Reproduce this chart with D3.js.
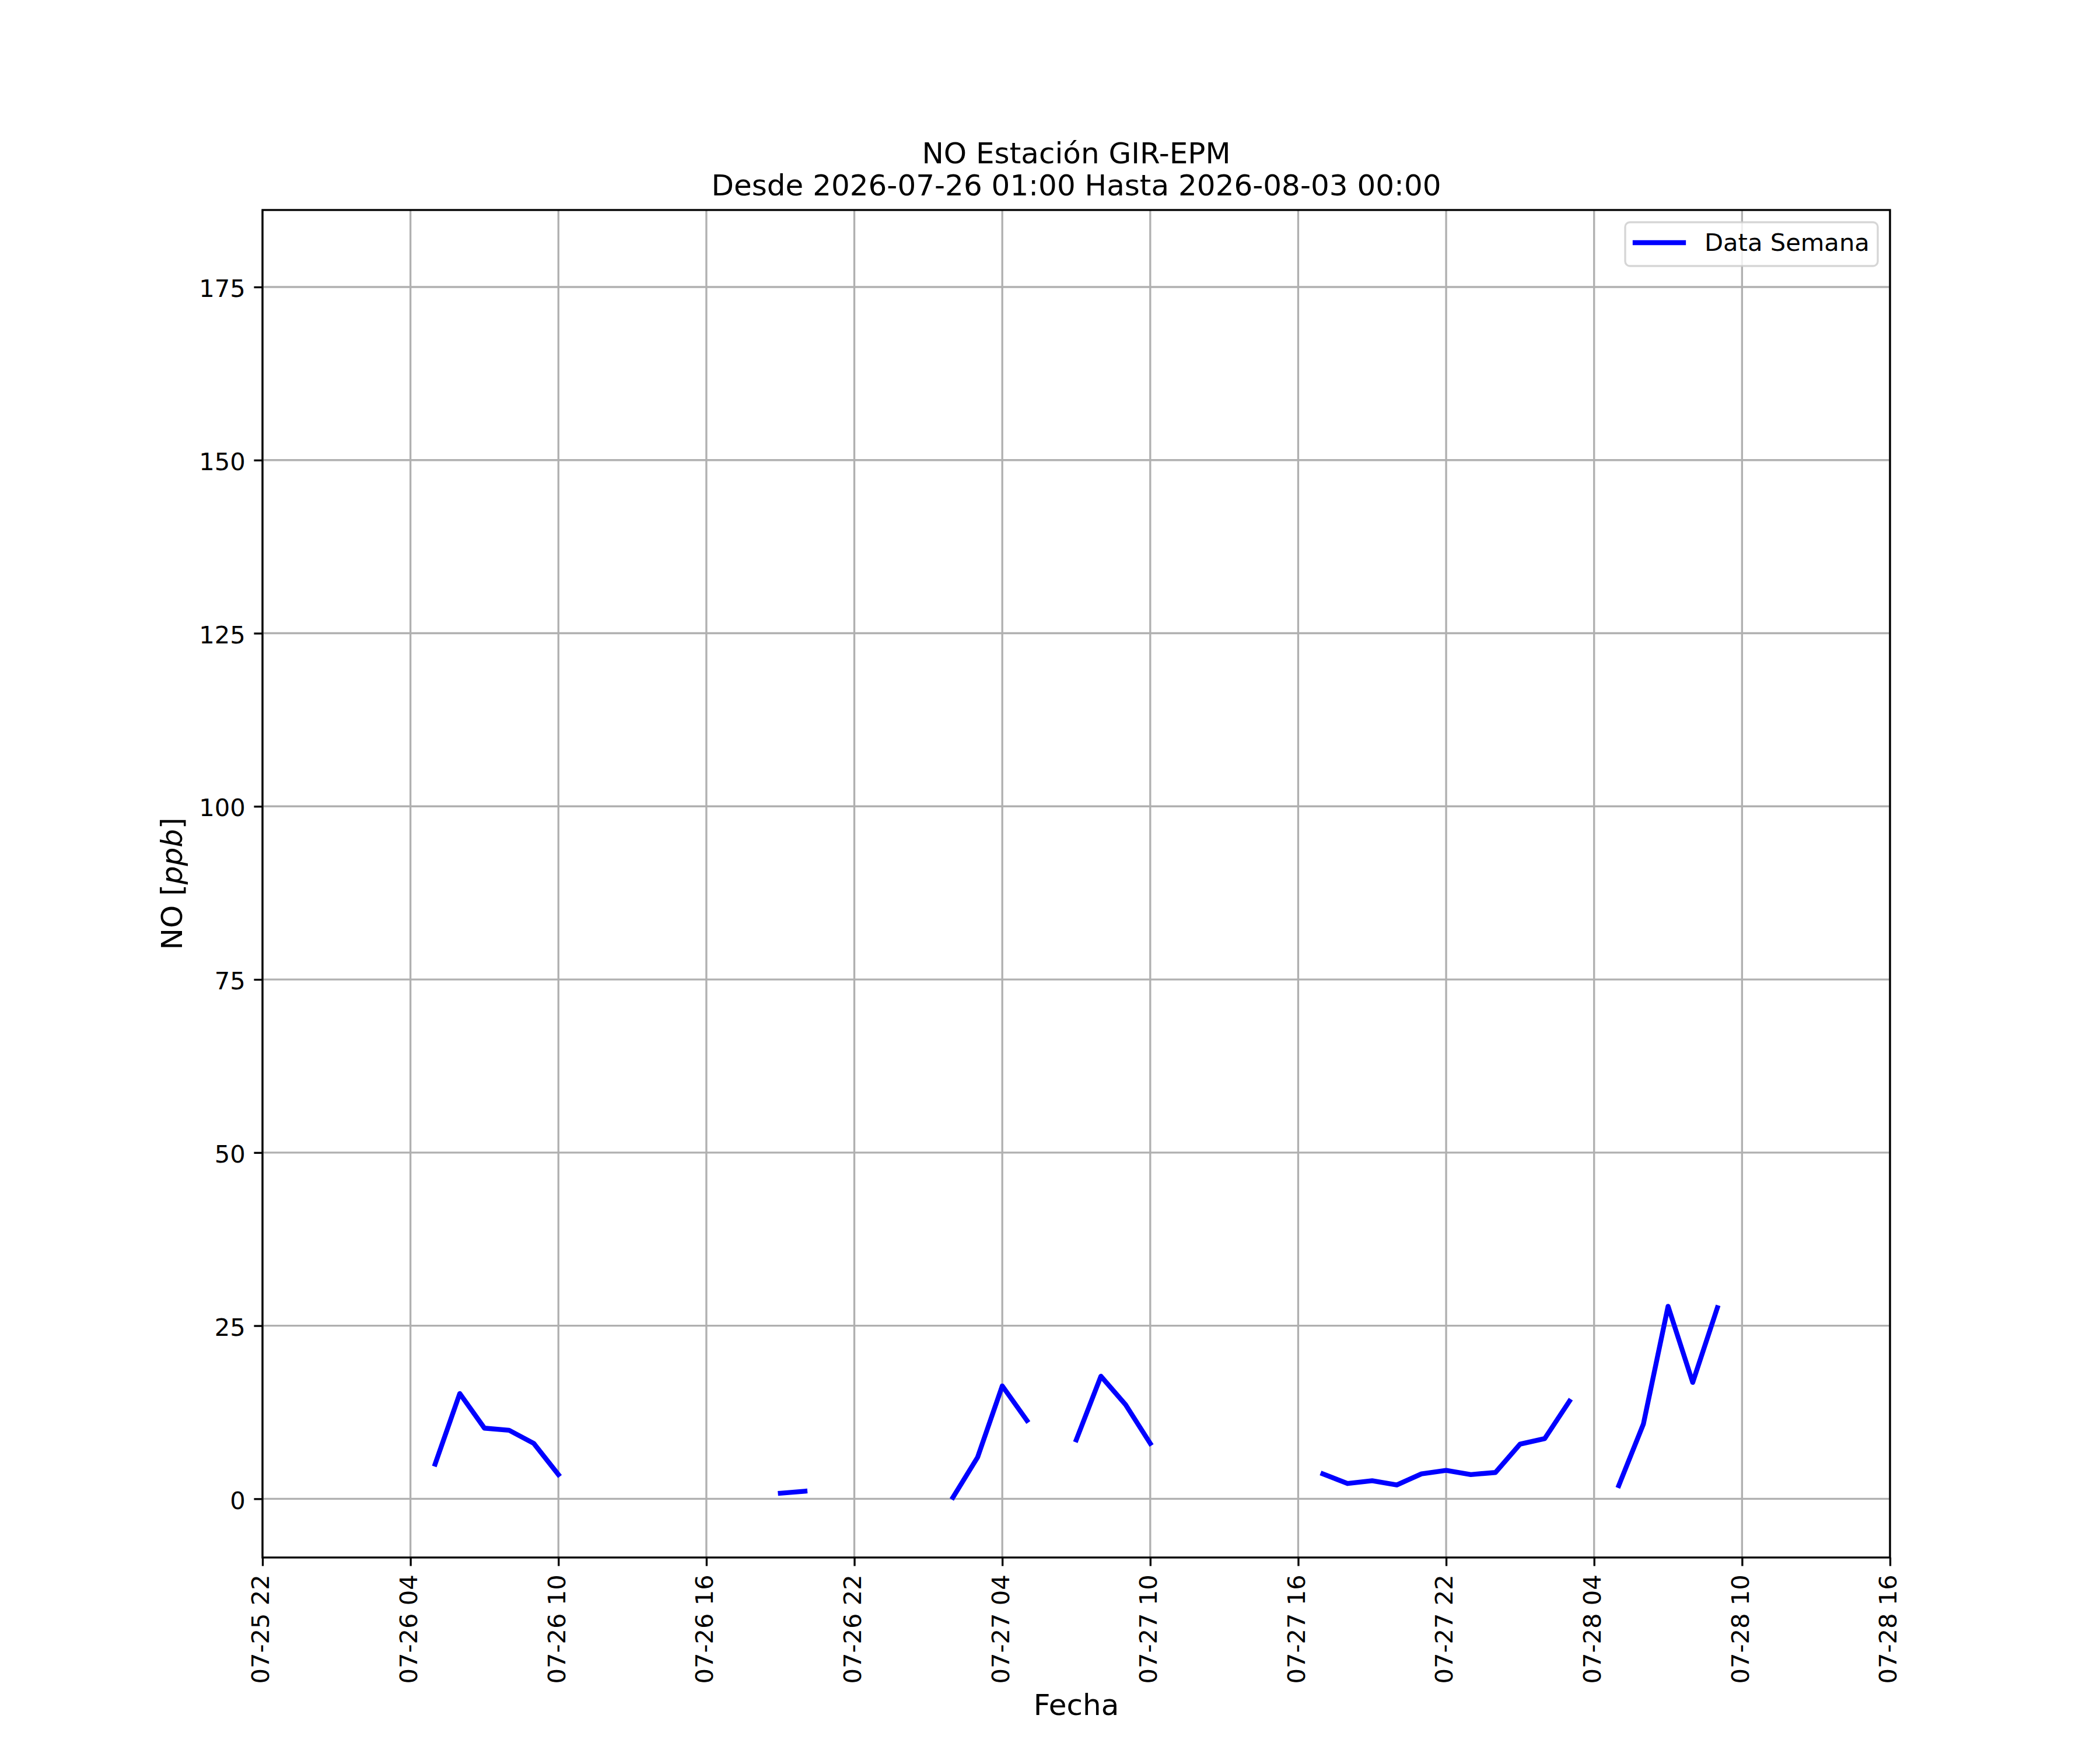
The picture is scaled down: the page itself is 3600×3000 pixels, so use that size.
<!DOCTYPE html>
<html>
<head>
<meta charset="utf-8">
<script src="https://cdn.jsdelivr.net/npm/d3@7"></script>
<style>
  body { margin: 0; background: #ffffff; }
  text { font-family: "DejaVu Sans", sans-serif; fill: #000000; }
</style>
</head>
<body>
<script>
// hourly readings, null = no data (breaks the line)
var fechas = [
  "2026-07-26 05:00", "2026-07-26 06:00", "2026-07-26 07:00", "2026-07-26 08:00", "2026-07-26 09:00", "2026-07-26 10:00",
  "2026-07-26 11:00",
  "2026-07-26 19:00", "2026-07-26 20:00",
  "2026-07-26 21:00",
  "2026-07-27 02:00", "2026-07-27 03:00", "2026-07-27 04:00", "2026-07-27 05:00",
  "2026-07-27 06:00",
  "2026-07-27 07:00", "2026-07-27 08:00", "2026-07-27 09:00", "2026-07-27 10:00",
  "2026-07-27 11:00",
  "2026-07-27 17:00", "2026-07-27 18:00", "2026-07-27 19:00", "2026-07-27 20:00", "2026-07-27 21:00", "2026-07-27 22:00",
  "2026-07-27 23:00", "2026-07-28 00:00", "2026-07-28 01:00", "2026-07-28 02:00", "2026-07-28 03:00",
  "2026-07-28 04:00",
  "2026-07-28 05:00", "2026-07-28 06:00", "2026-07-28 07:00", "2026-07-28 08:00", "2026-07-28 09:00"
];
var valores = [
  5.0, 15.2, 10.2, 9.9, 8.0, 3.5,
  null,
  0.8, 1.1,
  null,
  0.2, 6.0, 16.3, 11.3,
  null,
  8.5, 17.7, 13.6, 8.0,
  null,
  3.6, 2.2, 2.6, 2.0, 3.6, 4.1,
  3.5, 3.8, 7.9, 8.7, 14.1,
  null,
  1.9, 10.8, 27.8, 16.8, 27.6
];
var xTicks = [
  "2026-07-25 22:00", "2026-07-26 04:00", "2026-07-26 10:00", "2026-07-26 16:00",
  "2026-07-26 22:00", "2026-07-27 04:00", "2026-07-27 10:00", "2026-07-27 16:00",
  "2026-07-27 22:00", "2026-07-28 04:00", "2026-07-28 10:00", "2026-07-28 16:00"
];
var yTicks = [0, 25, 50, 75, 100, 125, 150, 175];
var xRange = ["2026-07-25 22:00", "2026-07-28 16:00"];
var yRange = [-8.48, 186.12];
var leyenda = ["Data Semana"];
var titulo = ["NO Estación GIR-EPM", "Desde 2026-07-26 01:00 Hasta 2026-08-03 00:00"];

var W = 3600, H = 3000;
var axL = 450, axR = 3240, axT = 360, axB = 2670;
var pt = 300 / 72;
var fs = 10 * pt, fsBig = 12 * pt;
var tickLen = 3.5 * pt, thin = 0.8 * pt;

var parse = d3.utcParse("%Y-%m-%d %H:%M");
var data = fechas.map(function (f, i) { return { t: parse(f), v: valores[i] }; });

var svg = d3.select("body").append("svg").attr("width", W).attr("height", H);
svg.append("rect").attr("width", W).attr("height", H).attr("fill", "#ffffff");

var x = d3.scaleUtc().domain(xRange.map(parse)).range([axL, axR]);
var y = d3.scaleLinear().domain(yRange).range([axB, axT]);

// grid
var grid = svg.append("g");
grid.selectAll(".gx").data(xTicks.map(parse)).enter().append("line")
  .attr("x1", function (d) { return x(d); }).attr("x2", function (d) { return x(d); })
  .attr("y1", axT).attr("y2", axB)
  .attr("stroke", "#b0b0b0").attr("stroke-width", thin);
grid.selectAll(".gy").data(yTicks).enter().append("line")
  .attr("x1", axL).attr("x2", axR)
  .attr("y1", function (d) { return y(d); }).attr("y2", function (d) { return y(d); })
  .attr("stroke", "#b0b0b0").attr("stroke-width", thin);

// series
var line = d3.line()
  .defined(function (d) { return d.v != null; })
  .x(function (d) { return x(d.t); })
  .y(function (d) { return y(d.v); });

svg.append("path").datum(data)
  .attr("d", line)
  .attr("fill", "none")
  .attr("stroke", "#0000ff")
  .attr("stroke-width", 2 * pt)
  .attr("stroke-linecap", "square")
  .attr("stroke-linejoin", "round");

// axes
var xAxis = svg.append("g").attr("transform", "translate(0," + axB + ")")
  .call(d3.axisBottom(x).tickValues(xTicks.map(parse))
    .tickFormat(d3.utcFormat("%m-%d %H")).tickSizeInner(tickLen).tickSizeOuter(0));
xAxis.select(".domain").remove();
xAxis.selectAll("line").attr("stroke", "#000").attr("stroke-width", thin);
xAxis.selectAll("text")
  .attr("font-size", fs).attr("font-family", "DejaVu Sans")
  .attr("transform", "rotate(-90)")
  .attr("x", -(tickLen + 3.5 * pt)).attr("y", 0).attr("dy", "0.26em")
  .style("text-anchor", "end");

var yAxis = svg.append("g").attr("transform", "translate(" + axL + ",0)")
  .call(d3.axisLeft(y).tickValues(yTicks).tickSizeInner(tickLen).tickSizeOuter(0)
    .tickPadding(3.5 * pt));
yAxis.select(".domain").remove();
yAxis.selectAll("line").attr("stroke", "#000").attr("stroke-width", thin);
yAxis.selectAll("text").attr("font-size", fs).attr("font-family", "DejaVu Sans").attr("dy", "0.4em");

// spines
svg.append("rect").attr("x", axL).attr("y", axT)
  .attr("width", axR - axL).attr("height", axB - axT)
  .attr("fill", "none").attr("stroke", "#000").attr("stroke-width", thin);

// titles and labels
svg.selectAll(".titulo").data(titulo).enter().append("text")
  .attr("x", (axL + axR) / 2).attr("y", function (d, i) { return 280 + i * 55; })
  .attr("text-anchor", "middle").attr("font-size", fsBig).text(function (d) { return d; });

svg.append("text").attr("x", (axL + axR) / 2).attr("y", 2940)
  .attr("text-anchor", "middle").attr("font-size", fsBig).text("Fecha");

var yl = svg.append("text").attr("transform", "translate(312," + (axT + axB) / 2 + ") rotate(-90)")
  .attr("text-anchor", "middle").attr("font-size", fsBig);
yl.append("tspan").text("NO [");
yl.append("tspan").attr("font-style", "italic").text("ppb");
yl.append("tspan").text("]");

// legend
var lg = svg.append("g");
lg.append("rect").attr("x", 2786).attr("y", 381).attr("width", 433).attr("height", 75)
  .attr("rx", 8).attr("ry", 8)
  .attr("fill", "#ffffff").attr("fill-opacity", 0.8)
  .attr("stroke", "#cccccc").attr("stroke-opacity", 0.8).attr("stroke-width", thin);
lg.selectAll(".item").data(leyenda).enter().append("line")
  .attr("x1", 2803).attr("x2", 2886).attr("y1", 416).attr("y2", 416)
  .attr("stroke", "#0000ff").attr("stroke-width", 2 * pt).attr("stroke-linecap", "square");
lg.selectAll(".lab").data(leyenda).enter().append("text")
  .attr("x", 2922).attr("y", 430).attr("font-size", fs).text(function (d) { return d; });
</script>
</body>
</html>
